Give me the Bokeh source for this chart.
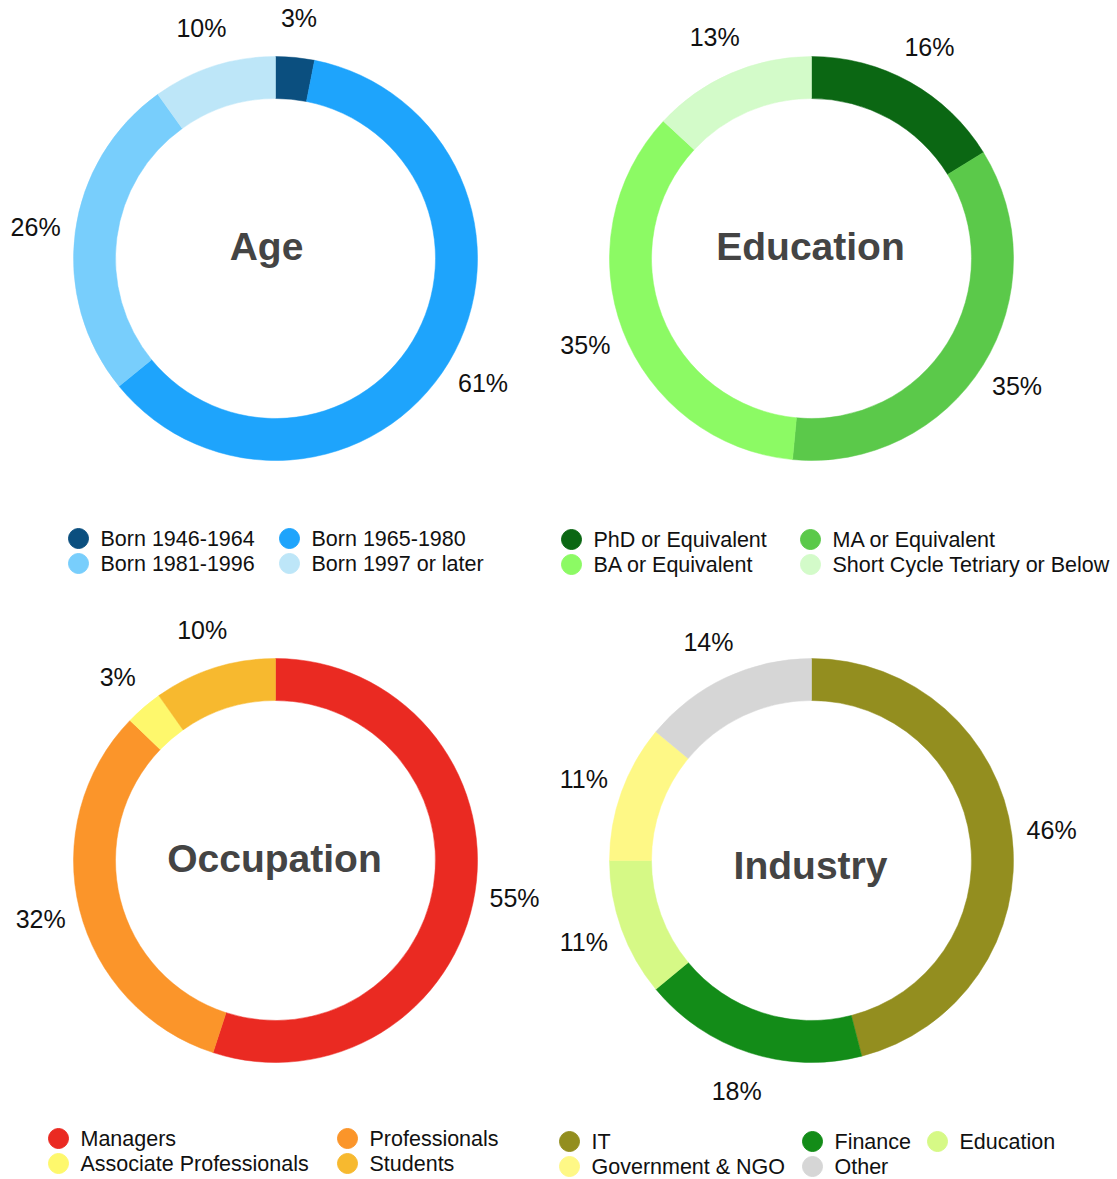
import math
from bokeh.plotting import figure
from bokeh.models import Range1d, ColumnDataSource
from bokeh.core.properties import value
from bokeh.embed import file_html
from bokeh.resources import INLINE

# ---------------- data ----------------
age_cats = ["Born 1946-1964", "Born 1965-1980", "Born 1981-1996", "Born 1997 or later"]
age_vals = [3.1, 61.0, 26.0, 9.9]
age_colors = ["#0b4f7f", "#1ea4fc", "#78cefc", "#bde6f8"]

edu_cats = ["PhD or Equivalent", "MA or Equivalent", "BA or Equivalent", "Short Cycle Tetriary or Below"]
edu_vals = [16.2, 35.3, 35.4, 13.1]
edu_colors = ["#0b6713", "#5bc94a", "#8cfa64", "#d3fbc9"]

occ_cats = ["Managers", "Professionals", "Associate Professionals", "Students"]
occ_vals = [55.0, 32.2, 3.0, 9.8]
occ_colors = ["#ea2a22", "#fb952a", "#fef86c", "#f7b92f"]

ind_cats = ["IT", "Finance", "Education", "Government & NGO", "Other"]
ind_vals = [46.0, 18.0, 11.0, 11.0, 14.0]
ind_colors = ["#938e1f", "#138c18", "#d6f986", "#fef886", "#d6d6d6"]

# ---------------- layout (pixel positions in the picture) ----------------
W, H = 1117, 1179
p = figure(width=W, height=H, output_backend="svg", toolbar_location=None,
           x_range=Range1d(0, W), y_range=Range1d(-H, 0),
           x_axis_type=None, y_axis_type=None, min_border=0)
p.outline_line_color = None
p.xgrid.visible = False
p.ygrid.visible = False
p.background_fill_color = "white"

R_OUT, R_IN, R_LAB = 202, 160, 242
FONT = "Liberation Sans"

charts = [
    dict(title="Age", cats=age_cats, vals=age_vals, colors=age_colors,
         cx=275, cy=258, tx=266, ty=246,
         legend_cols=[78, 289], legend_rows=[538, 563], ncols=2),
    dict(title="Education", cats=edu_cats, vals=edu_vals, colors=edu_colors,
         cx=811, cy=258, tx=810, ty=246,
         legend_cols=[571, 810], legend_rows=[539, 564], ncols=2),
    dict(title="Occupation", cats=occ_cats, vals=occ_vals, colors=occ_colors,
         cx=275, cy=860, tx=274, ty=858,
         legend_cols=[58, 347], legend_rows=[1138, 1163], ncols=2),
    dict(title="Industry", cats=ind_cats, vals=ind_vals, colors=ind_colors,
         cx=811, cy=860, tx=810, ty=865,
         legend_cols=[569, 812, 937], legend_rows=[1141, 1166], ncols=3),
]

for c in charts:
    total = sum(c["vals"])
    starts, ends, lx, ly, labels = [], [], [], [], []
    cum = 0.0
    for v in c["vals"]:
        a0 = math.pi / 2 - 2 * math.pi * (cum + v) / total
        a1 = math.pi / 2 - 2 * math.pi * cum / total
        starts.append(a0)
        ends.append(a1)
        mid = (a0 + a1) / 2
        lx.append(c["cx"] + R_LAB * math.cos(mid))
        ly.append(-c["cy"] + R_LAB * math.sin(mid))
        labels.append(f"{round(v / total * 100)}%")
        cum += v
    src = ColumnDataSource(dict(start=starts, end=ends, color=c["colors"],
                                lx=lx, ly=ly, label=labels))
    p.annular_wedge(x=c["cx"], y=-c["cy"], inner_radius=R_IN, outer_radius=R_OUT,
                    start_angle="start", end_angle="end", direction="anticlock",
                    fill_color="color", line_color="color", line_width=0.5, source=src)
    p.text(x="lx", y="ly", text="label", source=src, text_align="center",
           text_baseline="middle", text_font=value(FONT), text_font_size="25px",
           text_color="#111111")
    p.text(x=[c["tx"]], y=[-c["ty"]], text=[c["title"]], text_align="center",
           text_baseline="middle", text_font=value(FONT), text_font_size="39px",
           text_font_style="bold", text_color="#444444")
    # legend
    mx, my, tx = [], [], []
    for i, cat in enumerate(c["cats"]):
        col = i % c["ncols"]
        row = i // c["ncols"]
        mx.append(c["legend_cols"][col])
        my.append(-c["legend_rows"][row])
        tx.append(c["legend_cols"][col] + 22)
    lsrc = ColumnDataSource(dict(mx=mx, my=my, tx=tx, cat=c["cats"], color=c["colors"]))
    p.scatter(x="mx", y="my", size=20, fill_color="color", line_color="color", source=lsrc)
    p.text(x="tx", y="my", text="cat", source=lsrc, text_align="left",
           text_baseline="middle", text_font=value(FONT), text_font_size="21.5px",
           text_color="#111111")

open("out.html", "w").write(file_html(p, INLINE))
